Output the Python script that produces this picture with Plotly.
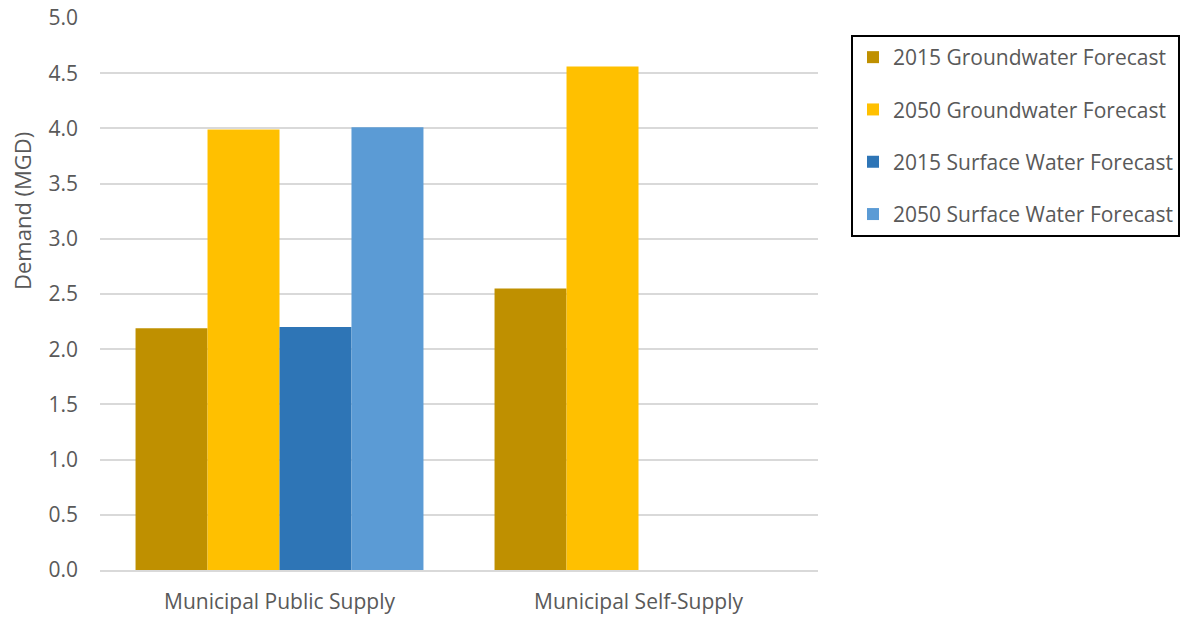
import plotly.graph_objects as go

categories = ["Municipal Public Supply", "Municipal Self-Supply"]
series_names = ["2015 Groundwater Forecast", "2050 Groundwater Forecast",
                "2015 Surface Water Forecast", "2050 Surface Water Forecast"]
gw_2015 = [2.19, 2.55]
gw_2050 = [3.99, 4.56]
sw_2015 = [2.20, 0]
sw_2050 = [4.01, 0]
colors = ["#BF9000", "#FFC000", "#2E75B6", "#5B9BD5"]
tick_vals = [0, 0.5, 1.0, 1.5, 2.0, 2.5, 3.0, 3.5, 4.0, 4.5, 5.0]
y_title = "Demand (MGD)"

fig = go.Figure()
for i, (name, vals) in enumerate(zip(series_names, [gw_2015, gw_2050, sw_2015, sw_2050])):
    fig.add_trace(go.Bar(
        x=categories, y=vals, name=name,
        marker=dict(color=colors[i], line=dict(width=0)),
        legendgroup=f"g{i}",
    ))

font_family = "Open Sans, Liberation Sans, sans-serif"
fig.update_layout(
    width=1185, height=618,
    margin=dict(l=100, r=367, t=18, b=48),
    paper_bgcolor="white", plot_bgcolor="white",
    barmode="group", bargap=0.198, bargroupgap=0,
    font=dict(family=font_family, color="#595959", size=21),
    xaxis=dict(showgrid=False, showline=True, linecolor="#D9D9D9", linewidth=1.5,
               automargin=False,
               ticks="", ticklabelstandoff=12, tickfont=dict(size=21, color="#595959")),
    yaxis=dict(range=[0, 5.0], tickvals=tick_vals, tickformat=".1f",
               automargin=False,
               showgrid=True, gridcolor="#D9D9D9", gridwidth=1.5,
               zeroline=False, showline=False, ticks="", ticklabelstandoff=21,
               tickfont=dict(size=21, color="#595959")),
    legend=dict(xref="container", yref="container",
                x=851 / 1185, y=1 - 35 / 618, xanchor="left", yanchor="top",
                bordercolor="#000000", borderwidth=2, bgcolor="white",
                font=dict(size=21, color="#595959"),
                traceorder="grouped", tracegroupgap=22,
                itemwidth=30),
    annotations=[dict(text=y_title, textangle=-90, xref="paper", yref="paper",
                      x=(22 - 100) / 718, y=(570 - 211) / 552,
                      xanchor="center", yanchor="middle", showarrow=False,
                      font=dict(size=22, color="#595959"))],
)

fig.write_html("out.html", post_script="document.body.style.margin='0';",
               config={"displayModeBar": False})
